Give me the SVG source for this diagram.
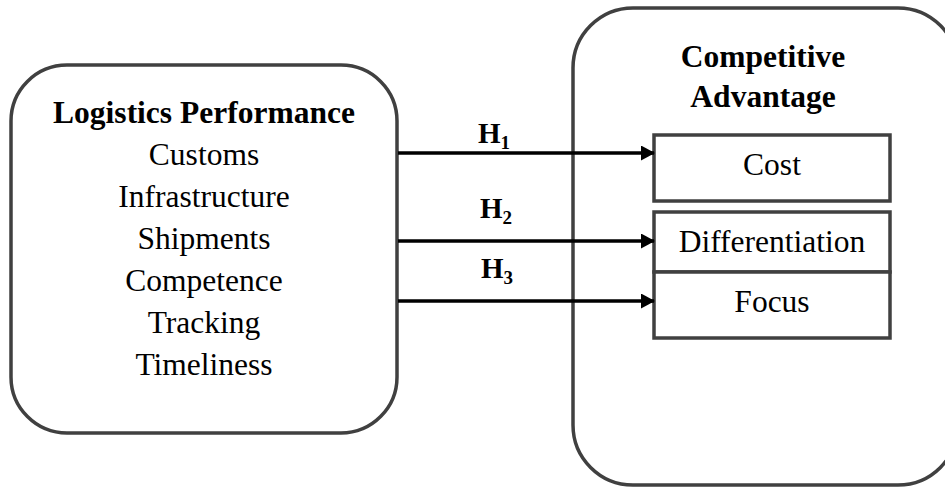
<svg xmlns="http://www.w3.org/2000/svg" width="945" height="487" viewBox="0 0 945 487">
<defs>
<style>
.box{fill:#fff;stroke:#404040;stroke-width:3.5}
.sub{fill:#fff;stroke:#404040;stroke-width:3.5}
.t{font-family:"Liberation Serif","Times New Roman",serif;font-size:31.5px;fill:#000;text-anchor:middle}
.b{font-weight:bold}
.h{font-family:"Liberation Serif","Times New Roman",serif;font-size:29px;font-weight:bold;fill:#000;text-anchor:middle}
.conn{stroke:#000;stroke-width:3.5;fill:none}
</style>
<marker id="ah" markerWidth="14" markerHeight="15" refX="13" refY="7.5" orient="auto" markerUnits="userSpaceOnUse">
<path d="M0,0 L14,7.5 L0,15 Z" fill="#000"/>
</marker>
</defs>
<rect width="945" height="487" fill="#fff"/>
<g id="competitive-advantage">
<rect class="box" x="573" y="8" width="385" height="477" rx="60" ry="60"/>
<text class="t b" x="763" y="67">Competitive</text>
<text class="t b" x="763" y="107">Advantage</text>
</g>
<g id="cost">
<rect class="sub" x="654" y="135" width="236" height="66"/>
<text class="t" x="772" y="175">Cost</text>
</g>
<g id="differentiation">
<rect class="sub" x="654" y="212" width="236" height="60"/>
<text class="t" x="772" y="252">Differentiation</text>
</g>
<g id="focus">
<rect class="sub" x="654" y="272" width="236" height="66"/>
<text class="t" x="772" y="312">Focus</text>
</g>
<g id="logistics-performance">
<rect class="box" x="11" y="65" width="386" height="368" rx="56" ry="56"/>
<text class="t b" x="204" y="123">Logistics Performance</text>
<text class="t" x="204" y="165">Customs</text>
<text class="t" x="204" y="207">Infrastructure</text>
<text class="t" x="204" y="249">Shipments</text>
<text class="t" x="204" y="291">Competence</text>
<text class="t" x="204" y="333">Tracking</text>
<text class="t" x="204" y="375">Timeliness</text>
</g>
<g id="connectors">
<line class="conn" x1="398" y1="153" x2="654" y2="153" marker-end="url(#ah)"/>
<line class="conn" x1="398" y1="241" x2="654" y2="241" marker-end="url(#ah)"/>
<line class="conn" x1="398" y1="301" x2="654" y2="301" marker-end="url(#ah)"/>
<text class="h" x="494" y="143">H<tspan font-size="19" dy="6">1</tspan></text>
<text class="h" x="496" y="218">H<tspan font-size="19" dy="6">2</tspan></text>
<text class="h" x="497" y="278">H<tspan font-size="19" dy="6">3</tspan></text>
</g>
</svg>
